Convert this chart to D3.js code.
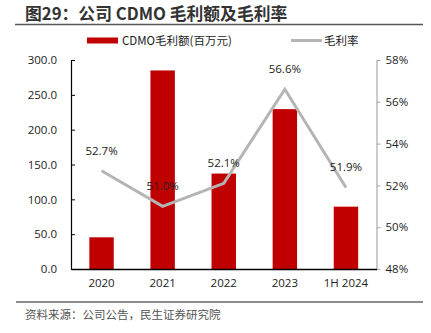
<!DOCTYPE html>
<html><head><meta charset="utf-8">
<script src="https://cdn.jsdelivr.net/npm/d3@7"></script>
<style>
body{margin:0;background:#fff;}
svg{display:block;font-family:"Noto Sans CJK SC","Noto Sans",sans-serif;}
</style></head>
<body><svg id="c" width="431" height="333"></svg>
<script>
const categories = ["2020","2021","2022","2023","1H 2024"];
const grossProfit = [45.5, 285.0, 137.0, 229.5, 89.5];
const grossMargin = [52.7, 51.0, 52.1, 56.6, 51.9];
const marginLabels = ["52.7%","51.0%","52.1%","56.6%","51.9%"];
const leftTicks = [0,50,100,150,200,250,300];
const rightTicks = [48,50,52,54,56,58];

const svg = d3.select("#c");
const L=71, R=376.5, T=60, B=269;

// title
svg.append("text").attr("x",25).attr("y",19.5).attr("font-size",16.8).attr("font-weight","bold")
  .attr("fill","#333").text("图29：公司 CDMO 毛利额及毛利率");
svg.append("line").attr("x1",15).attr("x2",423).attr("y1",24.5).attr("y2",24.5)
  .attr("stroke","#555").attr("stroke-width",1.5);

const x = d3.scaleBand().domain(categories).range([L,R]).paddingInner(0.6).paddingOuter(0.3);
const y = d3.scaleLinear().domain([0,300]).range([B,T]);
const y2 = d3.scaleLinear().domain([48,58]).range([B,T]);

// bars
svg.append("g").selectAll("rect").data(categories).join("rect")
  .attr("x",d=>x(d)).attr("width",x.bandwidth())
  .attr("y",(d,i)=>y(grossProfit[i])).attr("height",(d,i)=>B-y(grossProfit[i]))
  .attr("fill","#c00000");

// left axis
const ga = svg.append("g").attr("transform",`translate(${L},0)`)
  .call(d3.axisLeft(y).tickValues(leftTicks).tickFormat(d3.format(".1f")).tickSizeInner(-4).tickSizeOuter(0).tickPadding(14));
ga.select(".domain").attr("stroke","#000").attr("stroke-width",1.2);
ga.selectAll(".tick line").attr("stroke","#000");
ga.selectAll("text").attr("font-size",11.5).attr("fill","#222").attr("font-family","'Open Sans','Noto Sans',sans-serif");

// right axis
const gr = svg.append("g").attr("transform",`translate(${R},0)`)
  .call(d3.axisRight(y2).tickValues(rightTicks).tickFormat(d=>d+"%").tickSizeInner(4).tickSizeOuter(0).tickPadding(5));
gr.select(".domain").attr("stroke","#aaa").attr("stroke-width",1.2);
gr.selectAll(".tick line").attr("stroke","#aaa");
gr.selectAll("text").attr("font-size",11.5).attr("fill","#222").attr("font-family","'Open Sans','Noto Sans',sans-serif");

// bottom axis
const gb = svg.append("g").attr("transform",`translate(0,${B})`)
  .call(d3.axisBottom(x).tickSize(0).tickPadding(10));
gb.select(".domain").attr("stroke","#000").attr("stroke-width",1.5);
gb.selectAll("text").attr("font-size",11.5).attr("fill","#222").attr("font-family","'Open Sans','Noto Sans',sans-serif");

// line
const cx = d=>x(d)+x.bandwidth()/2;
svg.append("path").datum(categories)
  .attr("d",d3.line().x(d=>cx(d)).y((d,i)=>y2(grossMargin[i])))
  .attr("fill","none").attr("stroke","#b4b4b4").attr("stroke-width",3);

svg.append("g").selectAll("text").data(categories).join("text")
  .attr("x",d=>cx(d)).attr("y",(d,i)=>y2(grossMargin[i])-16)
  .attr("text-anchor","middle").attr("font-size",11.5).attr("fill","#222")
  .attr("font-family","'Open Sans','Noto Sans',sans-serif")
  .text((d,i)=>marginLabels[i]);

// legend
svg.append("rect").attr("x",87).attr("y",37.5).attr("width",31).attr("height",6).attr("fill","#c00000");
svg.append("text").attr("x",122).attr("y",44.5).attr("font-size",11.5).attr("fill","#222").text("CDMO毛利额(百万元)");
svg.append("line").attr("x1",291).attr("x2",322).attr("y1",40.5).attr("y2",40.5).attr("stroke","#b4b4b4").attr("stroke-width",3);
svg.append("text").attr("x",324).attr("y",44.5).attr("font-size",11.5).attr("fill","#222").text("毛利率");

// footer
svg.append("line").attr("x1",16).attr("x2",423).attr("y1",302).attr("y2",302).attr("stroke","#666").attr("stroke-width",1.5);
svg.append("text").attr("x",25).attr("y",318.5).attr("font-size",11.5).attr("fill","#555").text("资料来源：公司公告，民生证券研究院");
</script></body></html>
